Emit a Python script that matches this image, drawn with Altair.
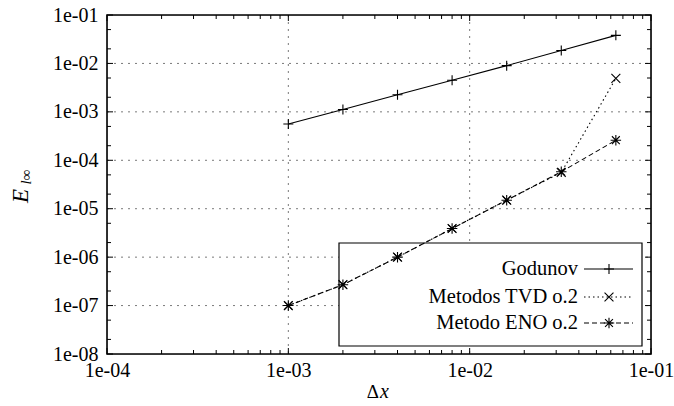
import math
import altair as alt
import pandas as pd

# ---- data ----
dx = [0.001, 0.002, 0.004, 0.008, 0.016, 0.032, 0.064]
godunov = [5.6e-4, 1.12e-3, 2.25e-3, 4.5e-3, 9.0e-3, 1.85e-2, 3.8e-2]
tvd = [1.0e-7, 2.7e-7, 1.0e-6, 3.9e-6, 1.5e-5, 5.6e-5, 4.9e-3]
eno = [1.0e-7, 2.7e-7, 1.0e-6, 3.9e-6, 1.5e-5, 5.8e-5, 2.6e-4]
series_names = ["Godunov", "Metodos TVD o.2", "Metodo ENO o.2"]

x_major = [1e-4, 1e-3, 1e-2, 1e-1]
x_major_labels = ["1e-04", "1e-03", "1e-02", "1e-01"]
y_major = [1e-8, 1e-7, 1e-6, 1e-5, 1e-4, 1e-3, 1e-2, 1e-1]
y_major_labels = ["1e-08", "1e-07", "1e-06", "1e-05", "1e-04", "1e-03", "1e-02", "1e-01"]
x_grid = [1e-3, 1e-2]
y_grid = [1e-7, 1e-6, 1e-5, 1e-4, 1e-3, 1e-2]
x_minor_mult = [2, 3, 4, 5, 6, 7, 8, 9]
y_minor_mult = [2, 5]
x_minor = [m * d for d in [1e-4, 1e-3, 1e-2] for m in x_minor_mult]
y_minor = [m * d for d in y_major[:-1] for m in y_minor_mult]

W, H = 544, 339
FONT = "Liberation Serif"

xscale = alt.Scale(type="log", domain=[1e-4, 1e-1], nice=False)
yscale = alt.Scale(type="log", domain=[1e-8, 1e-1], nice=False)


def label_expr(vals, labels):
    parts = [
        f"abs(log(datum.value)/LN10 - ({math.log10(v):.4f})) < 0.01 ? '{l}'"
        for v, l in zip(vals, labels)
    ]
    return " : ".join(parts) + " : ''"


xaxis = alt.Axis(values=x_major, labelExpr=label_expr(x_major, x_major_labels),
                 grid=False, ticks=False, domain=False, title=None,
                 labelFont=FONT, labelFontSize=20, labelColor="black",
                 labelPadding=6, labelFlush=False, labelOverlap=False)
yaxis = alt.Axis(values=y_major, labelExpr=label_expr(y_major, y_major_labels),
                 grid=False, ticks=False, domain=False, title=None,
                 labelFont=FONT, labelFontSize=20, labelColor="black",
                 labelPadding=9, labelFlush=False, labelOverlap=False)


def X(field):
    return alt.X(field, type="quantitative", scale=xscale, axis=xaxis)


def Y(field):
    return alt.Y(field, type="quantitative", scale=yscale, axis=yaxis)


layers = []

# grid
gx = pd.DataFrame({"gx": x_grid})
gy = pd.DataFrame({"gy": y_grid})
layers.append(alt.Chart(gx).mark_rule(color="#7a7a7a", strokeDash=[2, 5], strokeWidth=1)
              .encode(x=X("gx"), y=alt.value(0), y2=alt.value(H)))
layers.append(alt.Chart(gy).mark_rule(color="#7a7a7a", strokeDash=[2, 5], strokeWidth=1)
              .encode(y=Y("gy"), x=alt.value(0), x2=alt.value(W)))

# ticks (inward, on all four sides)
for vals, ln in [(x_major, 6), (x_minor, 4)]:
    d = pd.DataFrame({"tx": vals})
    layers.append(alt.Chart(d).mark_rule(color="black", strokeWidth=1)
                  .encode(x=X("tx"), y=alt.value(H), y2=alt.value(H - ln)))
    layers.append(alt.Chart(d).mark_rule(color="black", strokeWidth=1)
                  .encode(x=X("tx"), y=alt.value(0), y2=alt.value(ln)))
for vals, ln in [(y_major, 6), (y_minor, 4)]:
    d = pd.DataFrame({"ty": vals})
    layers.append(alt.Chart(d).mark_rule(color="black", strokeWidth=1)
                  .encode(y=Y("ty"), x=alt.value(0), x2=alt.value(ln)))
    layers.append(alt.Chart(d).mark_rule(color="black", strokeWidth=1)
                  .encode(y=Y("ty"), x=alt.value(W), x2=alt.value(W - ln)))

# legend box (white, under the data lines)
LX0, LX1, LY0, LY1 = 232, 535, 228, 331
layers.append(alt.Chart(pd.DataFrame({"a": [0]})).mark_rect(fill="white", stroke="black", strokeWidth=1.2)
              .encode(x=alt.value(LX0), x2=alt.value(LX1), y=alt.value(LY0), y2=alt.value(LY1)))

PLUS = "M-1,0L1,0M0,-1L0,1"
CROSS = "M-0.85,-0.85L0.85,0.85M-0.85,0.85L0.85,-0.85"
STAR = "M-1,0L1,0M0,-1L0,1M-0.75,-0.75L0.75,0.75M-0.75,0.75L0.75,-0.75"

styles = [
    (godunov, [1, 0], PLUS, 100),
    (tvd, [1.5, 3], CROSS, 110),
    (eno, [5, 3], STAR, 110),
]

for vals, dash, shape, size in styles:
    d = pd.DataFrame({"dx": dx, "err": vals})
    line_kw = dict(color="black", strokeWidth=1.1)
    if dash != [1, 0]:
        line_kw["strokeDash"] = dash
    layers.append(alt.Chart(d).mark_line(**line_kw).encode(x=X("dx"), y=Y("err")))
    layers.append(alt.Chart(d).mark_point(shape=shape, size=size, filled=False, stroke="black",
                                          strokeWidth=1.1, opacity=1)
                  .encode(x=X("dx"), y=Y("err")))

# legend entries
row_y = [254, 282, 308]
for name, (vals, dash, shape, size), ry in zip(series_names, styles, row_y):
    one = pd.DataFrame({"label": [name]})
    layers.append(alt.Chart(one).mark_text(align="right", baseline="middle", font=FONT,
                                           fontSize=20.5, color="black")
                  .encode(text="label:N", x=alt.value(471), y=alt.value(ry)))
    rk = dict(color="black", strokeWidth=1.1)
    if dash != [1, 0]:
        rk["strokeDash"] = dash
    layers.append(alt.Chart(one).mark_rule(**rk)
                  .encode(x=alt.value(477), x2=alt.value(526), y=alt.value(ry)))
    layers.append(alt.Chart(one).mark_point(shape=shape, size=size, filled=False, stroke="black",
                                            strokeWidth=1.1, opacity=1)
                  .encode(x=alt.value(502), y=alt.value(ry)))

# frame
layers.append(alt.Chart(pd.DataFrame({"a": [0]})).mark_rect(fillOpacity=0, stroke="black", strokeWidth=1.6)
              .encode(x=alt.value(0), x2=alt.value(W), y=alt.value(0), y2=alt.value(H)))

# axis titles
t1 = pd.DataFrame({"t": ["E"]})
layers.append(alt.Chart(t1).mark_text(font=FONT, fontStyle="italic", fontSize=23, angle=270,
                                      align="center", baseline="alphabetic", color="black")
              .encode(text="t:N", x=alt.value(-79), y=alt.value(181)))
t2 = pd.DataFrame({"t": ["l∞"]})
layers.append(alt.Chart(t2).mark_text(font=FONT, fontStyle="italic", fontSize=15, angle=270,
                                      align="center", baseline="alphabetic", color="black")
              .encode(text="t:N", x=alt.value(-76), y=alt.value(162)))
t3 = pd.DataFrame({"t": ["Δ"]})
layers.append(alt.Chart(t3).mark_text(font=FONT, fontSize=19, align="right",
                                      baseline="alphabetic", color="black")
              .encode(text="t:N", x=alt.value(272), y=alt.value(383)))
t4 = pd.DataFrame({"t": ["x"]})
layers.append(alt.Chart(t4).mark_text(font=FONT, fontStyle="italic", fontSize=20, align="left",
                                      baseline="alphabetic", color="black")
              .encode(text="t:N", x=alt.value(273), y=alt.value(383)))

chart = alt.layer(*layers).properties(
    width=W, height=H,
    autosize=alt.AutoSizeParams(type="none"),
    padding={"left": 107, "top": 15, "right": 23, "bottom": 52},
).configure_view(stroke=None).configure(background="white")

chart.save("out.html", embed_options={"renderer": "svg", "actions": False})
